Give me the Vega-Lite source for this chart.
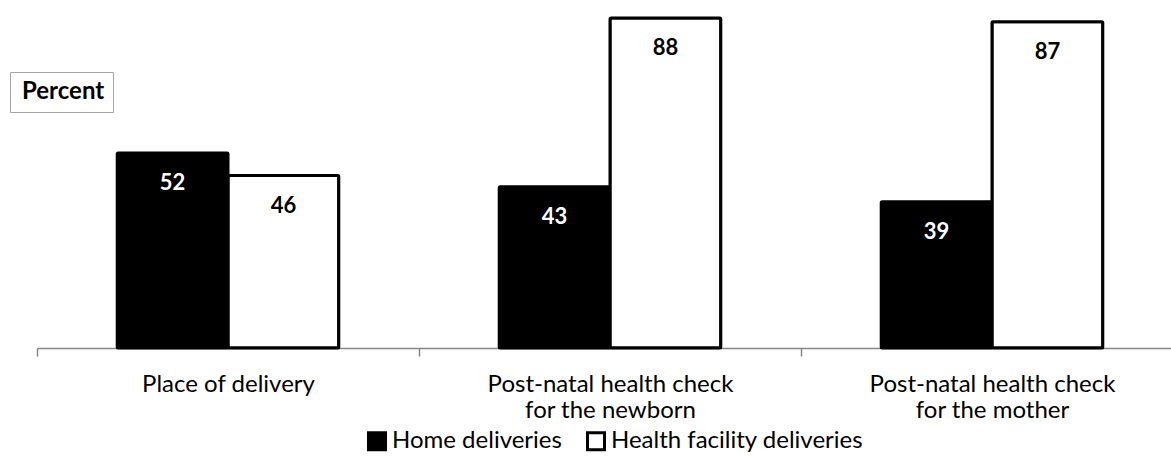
{
  "$schema": "https://vega.github.io/schema/vega-lite/v6.json",
  "width": 1134,
  "height": 348,
  "autosize": {"type": "none"},
  "padding": {"left": 37, "top": 0, "right": 0, "bottom": 111},
  "background": "white",
  "config": {
    "view": {"stroke": null},
    "font": "Lato",
    "axis": {"labelFont": "Lato", "titleFont": "Lato"},
    "legend": {"labelFont": "Lato"}
  },
  "data": {
    "values": [
      {"category": "Place of delivery", "series": "Home deliveries", "value": 52},
      {"category": "Place of delivery", "series": "Health facility deliveries", "value": 46},
      {"category": "Post-natal health check|for the newborn", "series": "Home deliveries", "value": 43},
      {"category": "Post-natal health check|for the newborn", "series": "Health facility deliveries", "value": 88},
      {"category": "Post-natal health check|for the mother", "series": "Home deliveries", "value": 39},
      {"category": "Post-natal health check|for the mother", "series": "Health facility deliveries", "value": 87}
    ]
  },
  "encoding": {
    "x": {
      "field": "category",
      "type": "nominal",
      "sort": null,
      "scale": {"range": [0, 1146], "paddingInner": 0, "paddingOuter": 0},
      "axis": {
        "title": null,
        "labelAngle": 0,
        "labelExpr": "split(datum.label, '|')",
        "labelFontSize": 24,
        "labelLineHeight": 26,
        "labelLimit": 0,
        "labelColor": "black",
        "labelPadding": 16,
        "labelBaseline": "top",
        "tickBand": "extent",
        "tickSize": 8,
        "tickColor": "#868686",
        "tickWidth": 1.5,
        "domainColor": "#868686",
        "domainWidth": 1.5
      }
    },
    "xOffset": {
      "field": "series",
      "type": "nominal",
      "sort": ["Home deliveries", "Health facility deliveries"],
      "scale": {"paddingInner": 0, "paddingOuter": 0.724}
    },
    "y": {
      "field": "value",
      "type": "quantitative",
      "scale": {"domain": [0, 92.8], "nice": false},
      "axis": null
    }
  },
  "layer": [
    {
      "mark": {"type": "bar", "stroke": "black", "strokeWidth": 3, "cornerRadius": 1},
      "encoding": {
        "fill": {
          "field": "series",
          "type": "nominal",
          "scale": {"domain": ["Home deliveries", "Health facility deliveries"], "range": ["black", "white"]},
          "legend": {
            "title": null,
            "orient": "none",
            "direction": "horizontal",
            "legendX": 328,
            "legendY": 429,
            "padding": 0,
            "symbolType": "square",
            "symbolSize": 289,
            "symbolStrokeColor": "black",
            "symbolStrokeWidth": 3,
            "symbolOpacity": 1,
            "labelFontSize": 24,
            "labelLimit": 0,
            "labelColor": "black",
            "labelOffset": 3,
            "columnPadding": 19
          }
        }
      }
    },
    {
      "mark": {"type": "text", "fontSize": 22, "fontWeight": "bold", "baseline": "middle", "dy": 30},
      "encoding": {
        "text": {"field": "value", "type": "quantitative"},
        "color": {
          "condition": {"test": "datum.series === 'Home deliveries'", "value": "white"},
          "value": "black"
        }
      }
    },
    {
      "mark": {"type": "point", "opacity": 0},
      "encoding": {
        "shape": {
          "datum": "Percent",
          "legend": {
            "title": null,
            "orient": "none",
            "legendX": -27,
            "legendY": 72,
            "padding": 8,
            "strokeColor": "#a6a6a6",
            "symbolSize": 0,
            "symbolOpacity": 0,
            "symbolStrokeWidth": 0,
            "labelOffset": -20,
            "labelFontSize": 24,
            "labelFontWeight": "bold",
            "labelColor": "black"
          }
        }
      }
    }
  ]
}
